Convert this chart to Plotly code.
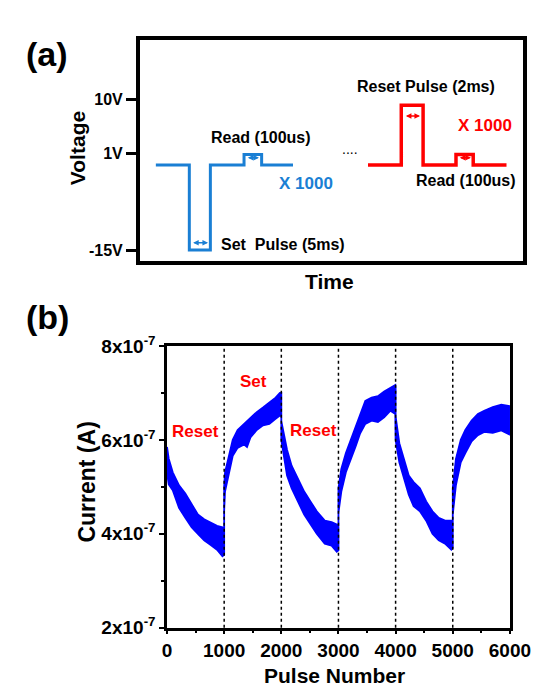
import plotly.graph_objects as go

W, H = 547, 687
FONT = "Liberation Sans, Arial, sans-serif"

# ---------- panel (a): schematic pulse train ----------
blue_t = [4.15, 12.9, 18.4, 27.2, 31.8, 40.0]
blue_v = [-0.92, -15.0, -0.92, 0.84, -0.92, -0.92]
red_t = [59.6, 68.3, 74.0, 82.6, 87.1, 95.8]
red_v = [-0.92, 9.0, -0.92, 0.84, -0.92, -0.92]
volt_ticks = [10, 1, -15]
volt_labels = ["10V", "1V", "-15V"]
# double arrows: (start, end, level, colour)
arrow_spans = [(13.5, 17.8, -13.8, "#1a7fd4"), (27.8, 31.1, 0.3, "#1a7fd4"),
               (69.1, 73.2, 7.2, "#ff0000"), (83.2, 86.5, 0.3, "#ff0000")]

# ---------- panel (b): current band (envelope, units 1e-7 A) ----------
pulse = [0, 30, 100, 210, 320, 430, 540, 650, 765, 875, 970, 1000,
         1000, 1015, 1070, 1150, 1235, 1350, 1400, 1460, 1570, 1680, 1790, 1900, 1975, 2000,
         2000, 2040, 2100, 2180, 2290, 2400, 2510, 2620, 2760, 2880, 2970, 3000,
         3000, 3050, 3130, 3215, 3300, 3380, 3470, 3580, 3690, 3800, 3910, 3995, 4000,
         4000, 4065, 4150, 4230, 4315, 4425, 4535, 4645, 4755, 4865, 4975, 5000,
         5000, 5055, 5140, 5220, 5330, 5440, 5550, 5700, 5850, 6000]
upper = [5.85, 5.60, 5.31, 5.03, 4.86, 4.62, 4.41, 4.31, 4.24, 4.17, 4.14, 4.10,
         5.00, 5.31, 5.59, 6.00, 6.21, 6.34, 6.40, 6.48, 6.59, 6.69, 6.79, 6.90, 7.00, 7.00,
         6.40, 6.14, 5.79, 5.45, 5.17, 4.90, 4.69, 4.48, 4.28, 4.25, 4.20, 4.15,
         4.97, 5.38, 5.72, 6.00, 6.28, 6.55, 6.83, 6.90, 6.93, 7.03, 7.10, 7.17, 7.10,
         6.50, 5.93, 5.59, 5.24, 5.10, 4.97, 4.69, 4.48, 4.34, 4.28, 4.28, 4.20,
         4.97, 5.59, 6.00, 6.21, 6.41, 6.55, 6.62, 6.70, 6.75, 6.72]
lower = [5.30, 5.05, 4.93, 4.55, 4.34, 4.14, 4.00, 3.86, 3.76, 3.66, 3.52, 3.55,
         4.50, 4.90, 5.24, 5.66, 5.83, 5.90, 5.85, 6.05, 6.21, 6.31, 6.34, 6.45, 6.52, 6.50,
         6.00, 5.66, 5.24, 4.97, 4.69, 4.41, 4.21, 4.00, 3.79, 3.75, 3.62, 3.65,
         4.45, 4.90, 5.31, 5.59, 5.86, 6.14, 6.34, 6.41, 6.38, 6.48, 6.62, 6.55, 6.50,
         6.00, 5.52, 5.17, 4.83, 4.59, 4.48, 4.28, 4.00, 3.86, 3.79, 3.66, 3.70,
         4.41, 5.03, 5.52, 5.72, 5.97, 6.10, 6.17, 6.15, 6.20, 6.11]
boundaries = [1000, 2000, 3000, 4000, 5000]
cur_ticks = [2e-7, 4e-7, 6e-7, 8e-7]
cur_labels = ["2x10<sup>-7</sup>", "4x10<sup>-7</sup>", "6x10<sup>-7</sup>", "8x10<sup>-7</sup>"]
x_ticks = [0, 1000, 2000, 3000, 4000, 5000, 6000]


def px(x):
    return x / W


def py(y):
    return 1 - y / H


fig = go.Figure()

fig.add_trace(go.Scatter(x=blue_t, y=blue_v, mode="lines", line=dict(color="#1a7fd4", width=3, shape="hv"),
                         xaxis="x", yaxis="y", showlegend=False, hoverinfo="skip"))
fig.add_trace(go.Scatter(x=red_t, y=red_v, mode="lines", line=dict(color="#ff0000", width=3.5, shape="hv"),
                         xaxis="x", yaxis="y", showlegend=False, hoverinfo="skip"))

band_x = pulse + pulse[::-1]
band_y = [u * 1e-7 for u in upper] + [l * 1e-7 for l in lower[::-1]]
fig.add_trace(go.Scatter(x=band_x, y=band_y, mode="lines", fill="toself", fillcolor="#0000ff",
                         line=dict(color="#0000ff", width=1.8), xaxis="x2", yaxis="y2",
                         showlegend=False, hoverinfo="skip"))

ann = []
for x0, x1, lv, col in arrow_spans:
    ann.append(dict(x=x1, y=lv, ax=x0, ay=lv, xref="x", yref="y", axref="x", ayref="y", text="",
                    showarrow=True, arrowhead=2, arrowside="end+start", arrowsize=0.7,
                    arrowwidth=1.6, arrowcolor=col, standoff=0, startstandoff=0))


def txt(t, x, y, size, color="black", bold=True, angle=0):
    ann.append(dict(text=(f"<b>{t}</b>" if bold else t), x=px(x), y=py(y), xref="paper", yref="paper",
                    showarrow=False, xanchor="center", yanchor="middle", textangle=angle,
                    font=dict(family=FONT, size=size, color=color)))


txt("(a)", 36, 34, 34)
txt("Voltage", 68, 132, 21, angle=-90)
txt("Time", 332, 270, 21)
txt("Read (100us)", 260, 121, 16)
txt("X 1000", 308, 168, 17, color="#1a7fd4")
txt("Set\u00a0 Pulse (5ms)", 283, 232, 16)
txt("....", 354, 133, 14, bold=False)
txt("Reset Pulse (2ms)", 434, 68, 16)
txt("X 1000", 496, 108, 17, color="#ff0000")
txt("Read (100us)", 476, 165, 16)

txt("(b)", 36, 307, 34)
txt("Current (A)", 78, 478, 23, angle=-90)
txt("Pulse Number", 338, 678, 21)
txt("Reset", 192, 425, 17, color="#ff0000")
txt("Set", 253, 374, 17, color="#ff0000")
txt("Reset", 315, 424, 17, color="#ff0000")

shapes = [dict(type="line", x0=b, x1=b, y0=0, y1=1, xref="x2", yref="y2 domain",
               line=dict(color="black", width=1.5, dash="dot")) for b in boundaries]

fig.update_layout(
    width=W, height=H, margin=dict(l=0, r=0, t=0, b=0),
    paper_bgcolor="white", plot_bgcolor="white",
    annotations=ann, shapes=shapes,
    xaxis=dict(domain=[px(133.3), px(535)], range=[0, 100], showticklabels=False, ticks="",
               showline=True, mirror=True, linewidth=4, linecolor="black",
               showgrid=False, zeroline=False, fixedrange=True),
    yaxis=dict(domain=[py(248.3), py(19.3)], range=[-16.76, 19.87], tickvals=volt_ticks,
               ticktext=[f"<b>{t}</b>" for t in volt_labels], ticks="outside", ticklen=10, tickwidth=3,
               tickcolor="black", showline=True, mirror=True, linewidth=4, linecolor="black",
               tickfont=dict(family=FONT, size=16, color="black"),
               showgrid=False, zeroline=False, fixedrange=True),
    xaxis2=dict(domain=[px(161.7), px(521.7)], range=[0, 6000], anchor="y2", tickvals=x_ticks,
                ticktext=[f"<b>{t}</b>" for t in x_ticks], ticks="outside", ticklen=4, tickwidth=2,
                tickcolor="black", minor=dict(dtick=500, ticks="outside", ticklen=3, tickwidth=2,
                                              tickcolor="black"),
                showline=True, mirror=True, linewidth=2.5, linecolor="black",
                tickfont=dict(family=FONT, size=19, color="black"),
                showgrid=False, zeroline=False, fixedrange=True),
    yaxis2=dict(domain=[py(628.7), py(336.7)], range=[2e-7, 8e-7], anchor="x2", tickvals=cur_ticks,
                ticktext=[f"<b>{t}</b>" for t in cur_labels], ticks="outside", ticklen=5, tickwidth=2,
                tickcolor="black", minor=dict(dtick=1e-7, ticks="outside", ticklen=3, tickwidth=2,
                                              tickcolor="black"),
                showline=True, mirror=True, linewidth=2.5, linecolor="black",
                tickfont=dict(family=FONT, size=19, color="black"),
                showgrid=False, zeroline=False, fixedrange=True),
)

fig.write_html("out.html", config={"displayModeBar": False})
